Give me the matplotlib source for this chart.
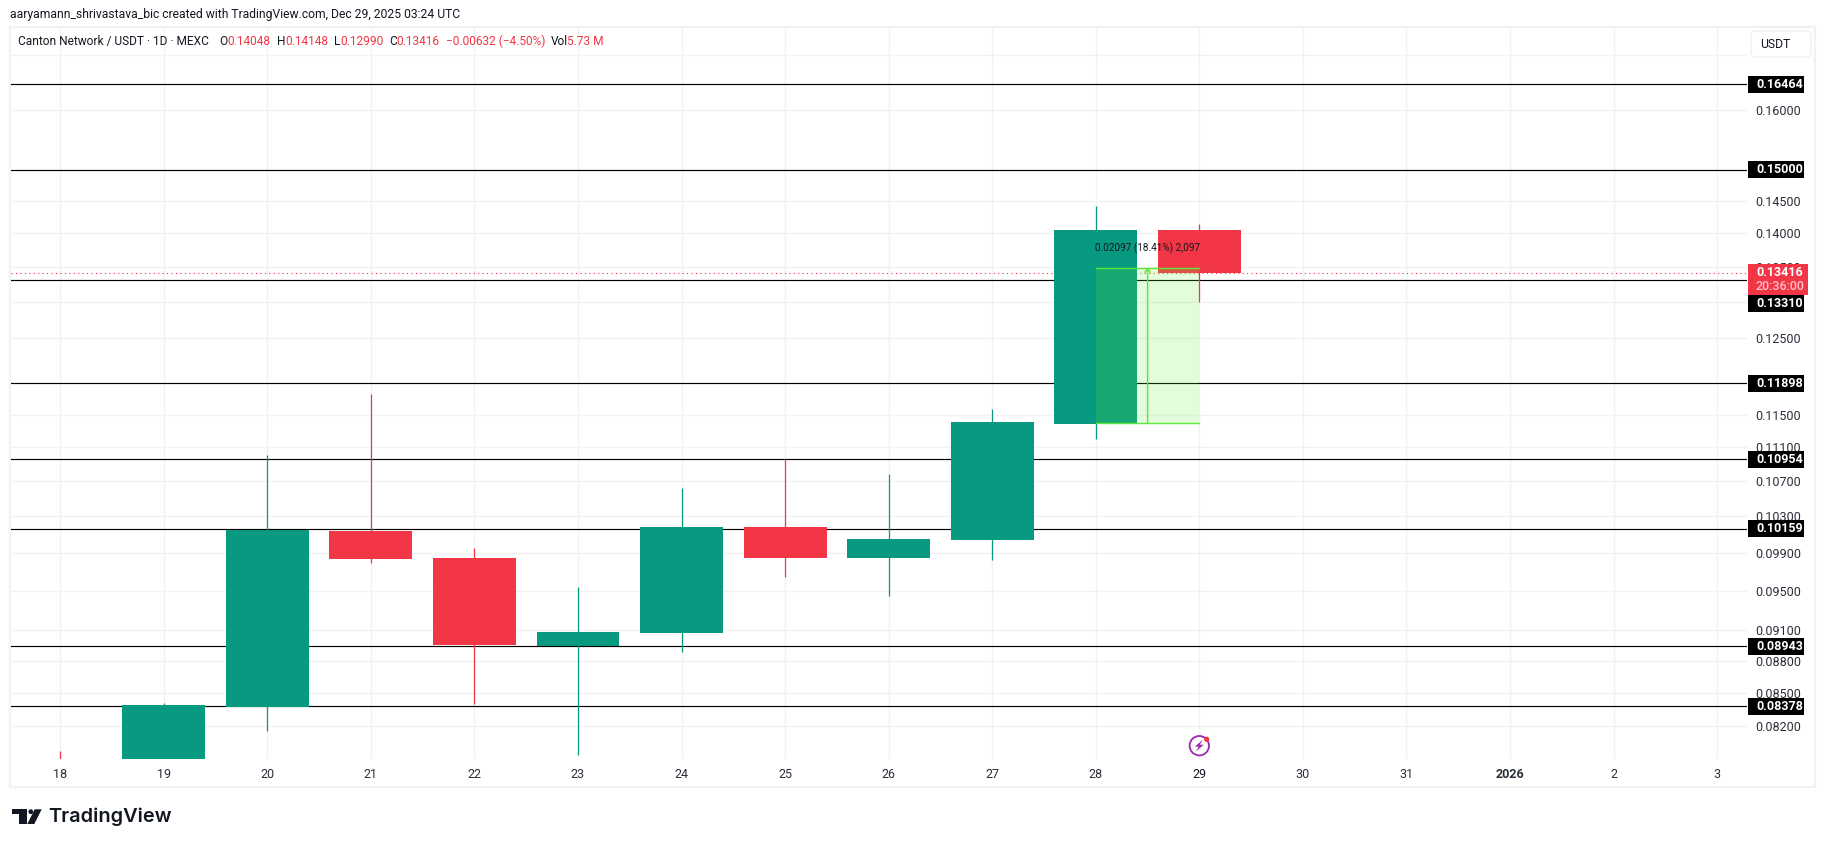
import matplotlib
matplotlib.use("Agg")
import matplotlib.pyplot as plt
from matplotlib.patches import Rectangle, FancyBboxPatch, Polygon, Circle
from matplotlib.transforms import Affine2D

plt.rcParams['font.family'] = ['Roboto', 'DejaVu Sans']

W, H = 1825, 847

# ---- data ----
days   = [18, 19, 20, 21, 22, 23, 24, 25, 26, 27, 28, 29]
opens  = [0.0788, 0.0785, 0.08375, 0.10135, 0.09843, 0.08946, 0.09073, 0.10180, 0.09843, 0.10037, 0.11384, 0.14048]
highs  = [0.07983, 0.08408, 0.11007, 0.11761, 0.09950, 0.09538, 0.10620, 0.10956, 0.10783, 0.11571, 0.14424, 0.14148]
lows   = [0.0770, 0.0775, 0.0816, 0.09793, 0.0840, 0.0795, 0.08891, 0.09645, 0.09445, 0.09821, 0.11203, 0.12990]
closes = [0.0780, 0.08391, 0.10146, 0.09832, 0.08955, 0.09083, 0.10180, 0.09843, 0.10048, 0.11409, 0.14048, 0.13416]

levels = [0.16464, 0.15000, 0.13310, 0.11898, 0.10954, 0.10159, 0.08943, 0.08378]
last_price = 0.13416
countdown = "20:36:00"

price_ticks = [0.17, 0.16, 0.15, 0.145, 0.14, 0.135, 0.13, 0.125, 0.115, 0.111,
               0.107, 0.103, 0.099, 0.095, 0.091, 0.088, 0.085, 0.082]
hidden_ticks = [0.17, 0.15, 0.13]
time_ticks = [18, 19, 20, 21, 22, 23, 24, 25, 26, 27, 28, 29, 30, 31, 32, 33, 34]
time_labels = ['18', '19', '20', '21', '22', '23', '24', '25', '26', '27', '28', '29',
               '30', '31', '2026', '2', '3']

measure_start, measure_end = 28, 29
measure_bottom = 0.11392
measure_top = 0.13489
measure_text = "0.02097 (18.41%) 2,097"

header = "aaryamann_shrivastava_bic created with TradingView.com, Dec 29, 2025 03:24 UTC"

# ---- style ----
GREEN, RED = '#089981', '#F23645'
GRID, INK = '#F1F2F4', '#131722'
M_LINE, M_FILL = '#5CE83A', (100/255, 240/255, 60/255, 0.18)
FS = 9.0

fig = plt.figure(figsize=(W/100, H/100), dpi=100, facecolor='white')
px = Affine2D().scale(1, -1).translate(0, H)   # pixel space, y downwards


def frect(x0, y0, x1, y1, **kw):
    fig.add_artist(Rectangle((x0, y0), x1-x0, y1-y0, transform=px, **kw))


def ftext(x, y, s, **kw):
    kw.setdefault('va', 'center')
    kw.setdefault('fontsize', FS)
    fig.text(x, y, s, transform=px, **kw)


# chart frame
frect(9.5, 27, 1815, 787, fc='none', ec=GRID, lw=1.6, zorder=0.5)

L, R, T, B = 11, 1747, 28, 759
ax = fig.add_axes([L/W, (H-B)/H, (R-L)/W, (B-T)/H], facecolor='none', zorder=1)
ax.set_yscale('log')
ax.set_xlim(17.525, 34.288)
ax.set_ylim(0.07913, 0.17499)
for s in ax.spines.values():
    s.set_visible(False)
ax.yaxis.tick_right()
ax.set_yticks(price_ticks)
ax.set_yticklabels(['' if p in hidden_ticks else f"{p:.5f}" for p in price_ticks])
ax.minorticks_off()
ax.set_xticks(time_ticks)
ax.set_xticklabels(time_labels)
ax.tick_params(axis='y', length=0, pad=6.2, labelsize=FS, labelcolor='#2A2E39')
ax.tick_params(axis='x', length=0, pad=6.2, labelsize=FS, labelcolor='#2A2E39')
for lab in ax.get_xticklabels():
    if lab.get_text() == '2026':
        lab.set_fontweight('bold')
    if lab.get_text() == '29':
        lab.set_color(INK)
ax.grid(True, color=GRID, lw=1.0)
ax.set_axisbelow(True)

# horizontal levels and last price
for lv in levels:
    ax.axhline(lv, color='black', lw=0.85, zorder=2)
ax.axhline(last_price, color=RED, lw=0.8, ls=(0, (1, 3)), zorder=2)

# candles
for d, o, h, l, c in zip(days, opens, highs, lows, closes):
    col = GREEN if c >= o else RED
    ax.vlines(d, l, h, color=col, lw=0.9, zorder=3)
    ax.bar(d, abs(c-o), bottom=min(o, c), width=0.8, color=col, lw=0, zorder=3)

# measure tool
ax.add_patch(Rectangle((measure_start, measure_bottom), measure_end-measure_start,
                       measure_top-measure_bottom, fc=M_FILL, ec='none', zorder=4))
ax.plot([measure_start, measure_end], [measure_top]*2, color=M_LINE, lw=1, zorder=4)
ax.plot([measure_start, measure_end], [measure_bottom]*2, color=M_LINE, lw=1, zorder=4)
mid = (measure_start+measure_end)/2
ax.annotate('', xy=(mid, measure_top), xytext=(mid, measure_bottom), zorder=4,
            arrowprops=dict(arrowstyle='->,head_length=0.25,head_width=0.2', color=M_LINE, lw=1,
                            shrinkA=0, shrinkB=0))
ax.text(mid, 0.1378, measure_text, ha='center', va='center', fontsize=7.2, color=INK, zorder=5)


def y_of(p):
    return H - ax.transData.transform((28, p))[1]


# price tags
red_y = y_of(last_price)
red_bottom = red_y + 22.3
for lv in levels:
    yy = y_of(lv)
    if red_y - 8.7 < yy + 8.5 and yy - 8.5 < red_bottom:   # pushed below the last-price tag
        yy = red_bottom + 8.5
    frect(1748, yy-8.5, 1804, yy+8.5, fc='black', ec='none', zorder=2)
    ftext(1756, yy, f"{lv:.5f}", color='white', fontweight='bold', zorder=3)
frect(1748, red_y-8.7, 1807.7, red_bottom, fc=RED, ec='none', zorder=3.5)
ftext(1756, red_y, f"{last_price:.5f}", color='white', fontweight='bold', zorder=4)
ftext(1756, red_y+14, countdown, color='#FFC2C8', fontweight='medium', zorder=4)

# currency box
fig.add_artist(FancyBboxPatch((1753, 33), 56, 22, boxstyle='round,pad=2,rounding_size=4', transform=px,
                              fc='white', ec=GRID, lw=1.0, zorder=3))
ftext(1760, 44.5, 'USDT', color=INK, fontsize=8.7, zorder=4)

# header and legend row
ftext(9.5, 14.5, header, color=INK, fontsize=8.75)
legend_parts = [
    (18, "Canton Network / USDT · 1D · MEXC", INK), (219, "O", INK), (227, "0.14048", RED),
    (277, "H", INK), (285, "0.14148", RED), (334, "L", INK), (340, "0.12990", RED),
    (389, "C", INK), (396, "0.13416", RED), (446, "−0.00632 (−4.50%)", RED),
    (551, "Vol", INK), (567, "5.73 M", RED),
]
for x, s, c in legend_parts:
    ftext(x, 41.5, s, color=c, fontsize=8.6, zorder=4)

# session marker
cx, cy = 1199.3, 745.7
fig.add_artist(Circle((cx, cy), 9.7, transform=px, fc='white', ec='#9C27B0', lw=1.3, zorder=3))
fig.add_artist(Polygon([(cx+3.5, cy-6), (cx-4.5, cy+1), (cx-0.5, cy+1), (cx-3.5, cy+6),
                        (cx+4.5, cy-1), (cx+0.5, cy-1)], closed=True, transform=px,
                       fc='#9C27B0', ec='none', zorder=4))
fig.add_artist(Circle((cx+7.4, cy-6.4), 2.6, transform=px, fc=RED, ec='none', zorder=5))

# TradingView logo
LOGO = '#131722'
fig.add_artist(Polygon([(12, 809.3), (26.7, 809.3), (26.7, 824), (19.3, 824), (19.3, 814), (12, 814)],
                       closed=True, transform=px, fc=LOGO, ec='none', zorder=3))
fig.add_artist(Circle((30.8, 811.7), 2.4, transform=px, fc=LOGO, ec='none', zorder=3))
fig.add_artist(Polygon([(34.7, 809.3), (41.7, 809.3), (34.3, 824), (27.3, 824)], closed=True,
                       transform=px, fc=LOGO, ec='none', zorder=3))
ftext(48, 817, 'TradingView', color=LOGO, fontsize=14.4, fontweight='semibold',
      family=['Inter', 'DejaVu Sans'], zorder=3)

fig.savefig('out.png', dpi=100, facecolor='white')
